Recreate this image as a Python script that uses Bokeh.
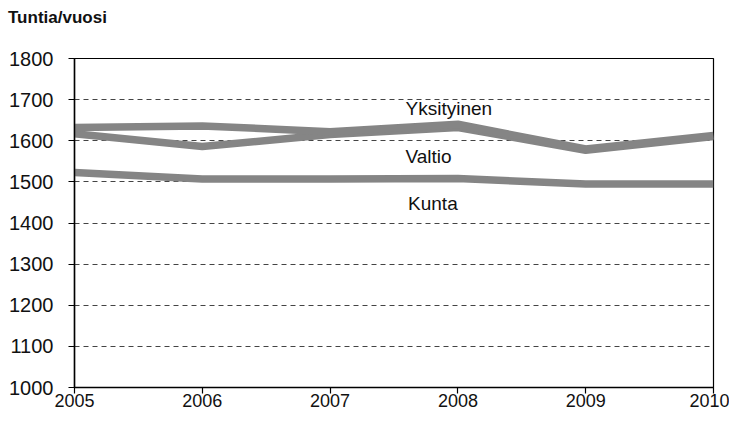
from bokeh.plotting import figure
from bokeh.models import Range1d, FixedTicker, Div
from bokeh.layouts import column
from bokeh.core.properties import value
from bokeh.embed import file_html
from bokeh.resources import INLINE

years = [2005, 2006, 2007, 2008, 2009, 2010]
yksityinen = [1632, 1636, 1622, 1640, 1580, 1613]
valtio = [1617, 1586, 1615, 1632, 1577, 1610]
kunta = [1523, 1507, 1507, 1508, 1495, 1495]
y_ticks = [1000, 1100, 1200, 1300, 1400, 1500, 1600, 1700, 1800]
series_labels = ["Yksityinen", "Valtio", "Kunta"]
label_x = [2007.59, 2007.59, 2007.61]
label_y = [1678, 1562, 1447]
y_title = "Tuntia/vuosi"

FONT = "Liberation Sans"

title_div = Div(text=y_title, width=300, height=28, margin=(0, 0, 0, 0),
                styles={"font-family": FONT, "font-weight": "bold", "font-size": "17px",
                        "color": "#111111", "padding-top": "8px", "padding-left": "8px",
                        "line-height": "20px"})

p = figure(width=729, height=395, frame_width=639, frame_height=329,
           output_backend="svg", toolbar_location=None, margin=(0, 0, 0, 0),
           x_range=Range1d(2005, 2010), y_range=Range1d(1000, 1800),
           min_border_left=74, min_border_right=16, min_border_top=30, min_border_bottom=36)
p.background_fill_color = "white"
p.border_fill_color = "white"
p.outline_line_color = "black"
p.outline_line_width = 1.2

for ys in (valtio, kunta, yksityinen):
    p.line(years, ys, line_color="#858585", line_width=7.5, line_join="round")

p.text(x=label_x, y=label_y, text=series_labels, text_font=value(FONT),
       text_font_size="19px", text_color="#111111", text_baseline="middle", text_align="left")

p.xaxis.ticker = FixedTicker(ticks=years)
p.yaxis.ticker = FixedTicker(ticks=y_ticks)
for ax in (p.xaxis, p.yaxis):
    ax.axis_line_color = "black"
    ax.axis_line_width = 1.5
    ax.major_tick_line_color = "black"
    ax.major_tick_line_width = 1.2
    ax.major_tick_out = 6
    ax.major_tick_in = 0
    ax.minor_tick_line_color = None
    ax.major_label_text_font = FONT
    ax.major_label_text_color = "#111111"
p.yaxis.major_label_text_font_size = "20px"
p.xaxis.major_label_text_font_size = "18px"
p.yaxis.major_label_standoff = 15
p.xaxis.major_label_standoff = 0

p.xgrid.grid_line_color = None
p.ygrid.grid_line_color = "#444444"
p.ygrid.grid_line_dash = "5 4"
p.ygrid.grid_line_width = 1

layout = column(title_div, p, spacing=0, margin=(0, 0, 0, 0))
open("out.html", "w").write(file_html(layout, INLINE))
